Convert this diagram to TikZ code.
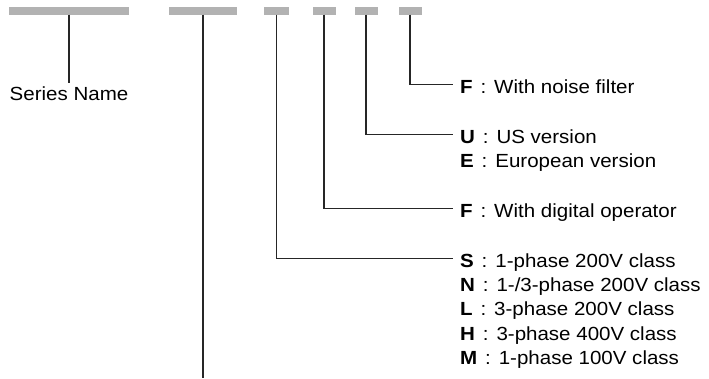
\documentclass[tikz,border=0pt]{standalone}
\usepackage{fontspec}
\setmainfont{Liberation Sans}[FakeStretch=1.08]
\begin{document}
\begin{tikzpicture}[x=1pt,y=-1pt,
  codebar/.style={fill=black!30,draw=none,minimum height=8pt,inner sep=0pt,outer sep=0pt},
  lead/.style={draw=black!85,line width=1.2pt},
  entry/.style={anchor=west,inner xsep=7pt,inner ysep=0pt,outer sep=0pt,
    text height=17.5pt,text depth=0pt,font=\fontsize{19pt}{24.3pt}\selectfont},
  plainlabel/.style={inner sep=0pt,outer sep=0pt,text height=17pt,text depth=0pt,
    font=\fontsize{19pt}{24.3pt}\selectfont}]
\newcommand{\codeitem}[2]{\textbf{#1}\hspace{8pt}:\hspace{8pt}#2}
\useasboundingbox (0,0) rectangle (709,378);

% code position bars
\node[codebar,minimum width=120pt] (bar1) at (69,10.5) {};
\node[codebar,minimum width=68pt]  (bar2) at (203,10.5) {};
\node[codebar,minimum width=25pt]  (bar3) at (276.5,10.5) {};
\node[codebar,minimum width=23pt]  (bar4) at (324,10.5) {};
\node[codebar,minimum width=23pt]  (bar5) at (366,10.5) {};
\node[codebar,minimum width=23pt]  (bar6) at (410,10.5) {};

% labels
\node[plainlabel,anchor=north] (series) at (69,83) {Series Name};
\node[entry] (filter) at (453,84.5) {\codeitem{F}{With noise filter}};
\node[entry] (us) at (453,134.5) {\codeitem{U}{US version}};
\node[entry] (eu) at (453,158.8) {\codeitem{E}{European version}};
\node[entry] (oper) at (453,208.5) {\codeitem{F}{With digital operator}};
\node[entry] (ph1) at (453,258.5) {\codeitem{S}{1-phase 200V class}};
\node[entry] (ph2) at (453,282.8) {\codeitem{N}{1-/3-phase 200V class}};
\node[entry] (ph3) at (453,307.1) {\codeitem{L}{3-phase 200V class}};
\node[entry] (ph4) at (453,331.4) {\codeitem{H}{3-phase 400V class}};
\node[entry] (ph5) at (453,355.7) {\codeitem{M}{1-phase 100V class}};

\coordinate (capend) at (203,378);

% leader lines
\draw[lead] (bar1.south) -- (series.north);
\draw[lead] (bar2.south) -- (capend);
\draw[lead] (bar3.south) |- (ph1.west);
\draw[lead] (bar4.south) |- (oper.west);
\draw[lead] (bar5.south) |- (us.west);
\draw[lead] (bar6.south) |- (filter.west);
\end{tikzpicture}
\end{document}
